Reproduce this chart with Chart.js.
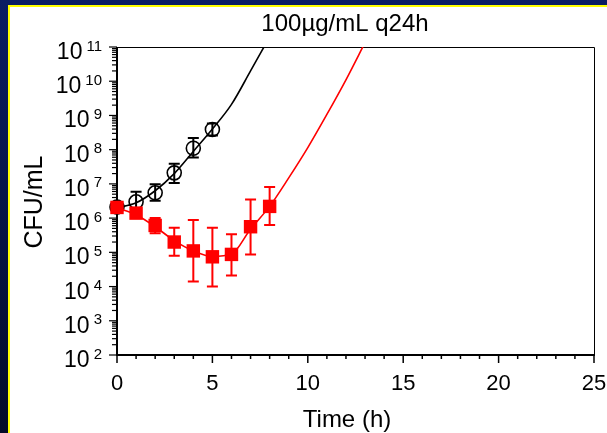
<!DOCTYPE html>
<html>
<head>
<meta charset="utf-8">
<script src="https://cdn.jsdelivr.net/npm/chart.js@4"></script>
<style>
  html, body { margin: 0; padding: 0; }
  body { width: 607px; height: 433px; position: relative; overflow: hidden;
         background: linear-gradient(#0a1d63, #030b28); }
  .panel { position: absolute; left: 8px; top: 5px; right: 0; bottom: 0;
           background: #fff; border-left: 2px solid #ffff00; border-top: 2px solid #ffff00; }
  #chart { position: absolute; left: 0; top: 0; }
</style>
</head>
<body>
<div class="panel"></div>
<canvas id="chart" width="607" height="433"></canvas>
<script>

// Observed counts (CFU/mL), mean with lower / upper error limits

const controlHours = [0, 1, 2, 3, 4, 5];
const controlMean = [2.1e6, 3.0e6, 5.5e6, 2.1e7, 1.1e8, 3.9e8];
const controlLow = [1.9e6, 1.6e6, 3.2e6, 1.07e7, 5.9e7, 2.6e8];
const controlHigh = [2.3e6, 5.9e6, 9.8e6, 3.9e7, 2.2e8, 5.8e8];

const drugHours = [0, 1, 2, 3, 4, 5, 6, 7, 8];
const drugMean = [2.05e6, 1.4e6, 6.1e5, 2.0e5, 1.1e5, 7.4e4, 8.7e4, 5.6e5, 2.2e6];
const drugLow = [1.7e6, 1.1e6, 3.6e5, 8.0e4, 1.4e4, 1.0e4, 2.1e4, 8.7e4, 6.3e5];
const drugHigh = [2.5e6, 1.8e6, 1.0e6, 5.2e5, 8.8e5, 5.2e5, 3.4e5, 3.5e6, 8.1e6];

// Model fits

const controlFitHours = [0, 1, 2, 3, 4, 5, 6, 7, 7.7, 8];
const controlFit = [2.0e6, 2.8e6, 6.3e6, 2.0e7, 8.9e7, 4.0e8, 2.1e9, 2.0e10, 1.0e11, 2.0e11];

const drugFitHours = [0, 1, 2, 3, 4, 5, 6, 7, 8, 9, 10, 11, 12, 13];
const drugFit = [2.0e6, 1.26e6, 5.6e5, 2.2e5, 1.1e5, 7.6e4, 8.9e4, 4.8e5, 2.2e6, 1.5e7, 1.15e8, 1.07e9, 1.1e10, 1.35e11];

// Axis ticks

const xTicks = [0, 5, 10, 15, 20, 25];
const yExponents = [2, 3, 4, 5, 6, 7, 8, 9, 10, 11];

const titleText = "100µg/mL q24h";
const xTitle = "Time (h)";
const yTitle = "CFU/mL";

const FONT = "'Liberation Sans', Arial, sans-serif";
const RED = "#ff0000";


function toPoints(xs, ys) {
    return xs.map(function (x, i) { return { x: x, y: ys[i] }; });
}


// axes, ticks, labels and error bars

const framePlugin = {

    id: "frame",

    beforeDatasetsDraw(chart) {

        const ctx = chart.ctx;
        const a = chart.chartArea;
        const xs = chart.scales.x;
        const ys = chart.scales.y;

        ctx.save();
        ctx.strokeStyle = "#000";
        ctx.fillStyle = "#000";

        // thin top and right border
        ctx.lineWidth = 1;
        ctx.beginPath();
        ctx.moveTo(a.left, a.top + 0.5);
        ctx.lineTo(a.right + 0.5, a.top + 0.5);
        ctx.lineTo(a.right + 0.5, a.bottom);
        ctx.stroke();

        // left and bottom axis
        ctx.lineWidth = 2;
        ctx.beginPath();
        ctx.moveTo(a.left, a.top);
        ctx.lineTo(a.left, a.bottom);
        ctx.lineTo(a.right + 1, a.bottom);
        ctx.stroke();

        // x ticks, one every hour, long every 5
        ctx.lineWidth = 1.5;
        for (let h = xs.min; h <= xs.max; h++) {
            const px = xs.getPixelForValue(h);
            const len = xTicks.includes(h) ? 8 : 4;
            ctx.beginPath();
            ctx.moveTo(px, a.bottom);
            ctx.lineTo(px, a.bottom + len);
            ctx.stroke();
        }

        ctx.font = "22px " + FONT;
        ctx.textAlign = "center";
        ctx.textBaseline = "alphabetic";
        xTicks.forEach(function (h) {
            ctx.fillText(String(h), xs.getPixelForValue(h), a.bottom + 35);
        });

        // y ticks, log decades with minor marks
        ctx.lineWidth = 1.2;
        yExponents.forEach(function (e, i) {
            const py = ys.getPixelForValue(Math.pow(10, e));
            ctx.beginPath();
            ctx.moveTo(a.left, py);
            ctx.lineTo(a.left - 8, py);
            ctx.stroke();
            if (i < yExponents.length - 1) {
                for (let d = 2; d <= 9; d++) {
                    const pm = ys.getPixelForValue(d * Math.pow(10, e));
                    ctx.beginPath();
                    ctx.moveTo(a.left, pm);
                    ctx.lineTo(a.left - 5, pm);
                    ctx.stroke();
                }
            }
        });

        ctx.textAlign = "left";
        yExponents.forEach(function (e) {
            const py = ys.getPixelForValue(Math.pow(10, e));
            const sup = String(e);
            ctx.font = "15px " + FONT;
            const supW = ctx.measureText(sup).width;
            ctx.font = "23px " + FONT;
            const baseW = ctx.measureText("10").width;
            const right = a.left - 15;
            ctx.fillText("10", right - supW - 4 - baseW, py + 12);
            ctx.font = "15px " + FONT;
            ctx.fillText(sup, right - supW, py + 3.5);
        });

        // titles
        ctx.font = "24px " + FONT;
        ctx.textAlign = "center";
        ctx.fillText(titleText, 345, 30.5);
        ctx.fillText(xTitle, 347, 427);

        ctx.save();
        ctx.font = "25px " + FONT;
        ctx.translate(41.5, 202);
        ctx.rotate(-Math.PI / 2);
        ctx.fillText(yTitle, 0, 0);
        ctx.restore();

        // error bars
        function bars(hrs, lo, hi, color) {
            ctx.strokeStyle = color;
            ctx.lineWidth = 2;
            hrs.forEach(function (h, i) {
                const px = xs.getPixelForValue(h);
                const top = ys.getPixelForValue(hi[i]);
                const bot = ys.getPixelForValue(lo[i]);
                ctx.beginPath();
                ctx.moveTo(px, top);
                ctx.lineTo(px, bot);
                ctx.moveTo(px - 5.5, top);
                ctx.lineTo(px + 5.5, top);
                ctx.moveTo(px - 5.5, bot);
                ctx.lineTo(px + 5.5, bot);
                ctx.stroke();
            });
        }

        bars(controlHours, controlLow, controlHigh, "#000");
        bars(drugHours, drugLow, drugHigh, RED);

        ctx.restore();
    }
};


new Chart(document.getElementById("chart"), {

    type: "scatter",

    data: {

        datasets: [
            {
                data: toPoints(drugHours, drugMean),
                pointStyle: "rect",
                pointRadius: 9.5,
                backgroundColor: RED,
                borderColor: RED,
                borderWidth: 0,
                clip: false,
                order: 0
            },
            {
                type: "line",
                data: toPoints(drugFitHours, drugFit),
                borderColor: RED,
                borderWidth: 1.6,
                pointRadius: 0,
                cubicInterpolationMode: "monotone",
                order: 1
            },
            {
                data: toPoints(controlHours, controlMean),
                pointStyle: "circle",
                pointRadius: 7,
                backgroundColor: "rgba(0,0,0,0)",
                borderColor: "#000",
                borderWidth: 1.6,
                clip: false,
                order: 2
            },
            {
                type: "line",
                data: toPoints(controlFitHours, controlFit),
                borderColor: "#000",
                borderWidth: 1.6,
                pointRadius: 0,
                cubicInterpolationMode: "monotone",
                order: 3
            }
        ]
    },

    options: {
        responsive: false,
        animation: false,
        devicePixelRatio: 1,
        layout: { padding: { left: 117, top: 47, right: 13, bottom: 78 } },
        plugins: {
            legend: { display: false },
            tooltip: { enabled: false }
        },
        scales: {
            x: { type: "linear", min: 0, max: 25, display: false },
            y: { type: "logarithmic", min: 1e2, max: 1e11, display: false }
        }
    },

    plugins: [framePlugin]

});

</script>
</body>
</html>
